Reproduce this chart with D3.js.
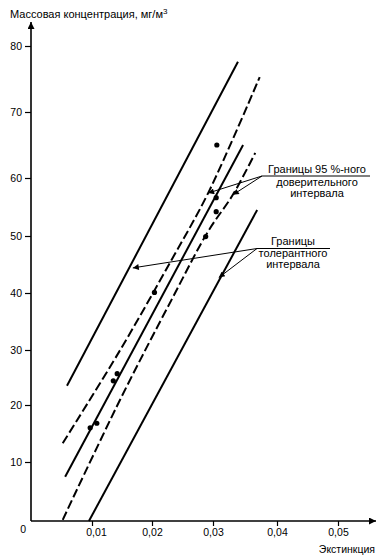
<!DOCTYPE html>
<html><head><meta charset="utf-8">
<script src="https://cdn.jsdelivr.net/npm/d3@7"></script>
<style>
html,body{margin:0;padding:0;background:#fff;}
svg{display:block;font-family:"Liberation Sans",Arial,sans-serif;}
</style></head>
<body>
<svg id="c" width="390" height="559"></svg>
<script>
// ---- data ----
const xTickValues = [0.01, 0.02, 0.03, 0.04, 0.05];
const yTickValues = [0, 10, 20, 30, 40, 50, 60, 70, 80];
const yTitle = "Массовая концентрация, мг/м";
const yTitleSup = "3";
const xTitle = "Экстинкция";

// measured points
const pointsX = [0.0097, 0.0108, 0.01355, 0.0142, 0.0204, 0.0288, 0.0305, 0.0305, 0.0306];
const pointsY = [16.0, 16.8, 24.4, 25.7, 40.1, 49.9, 56.6, 54.2, 65.0];

// regression line
const regX = [0.0056, 0.0347];
const regY = [7.5, 65.0];
// 95 % confidence bounds
const confUpX = [0.0052, 0.0147, 0.0232, 0.0292, 0.0373];
const confUpY = [13.3, 30.0, 45.8, 57.4, 75.3];
const confLoX = [0.0052, 0.0147, 0.0232, 0.0292, 0.0331, 0.0366];
const confLoY = [0.2, 21.0, 38.8, 50.8, 57.1, 63.8];
// tolerance bounds
const tolUpX = [0.0059, 0.0339];
const tolUpY = [23.5, 77.6];
const tolLoX = [0.0095, 0.0369];
const tolLoY = [0.0, 54.5];

const confLabel = ["Границы 95 %-ного", "доверительного", "интервала"];
const tolLabel = ["Границы", "толерантного", "интервала"];
// arrow targets (data units)
const confArrowX = [0.0292, 0.0331];
const confArrowY = [57.4, 57.1];
const tolArrowX = [0.0168, 0.0309];
const tolArrowY = [44.4, 42.7];

// ---- drawing ----
const svg = d3.select("#c");
const x = d3.scaleLinear().domain([0, 0.01, 0.02, 0.03, 0.04, 0.05]).range([31, 92, 152, 213, 277, 338]);
const y = d3.scaleLinear().domain(yTickValues).range([521, 462, 405, 350, 293, 236, 178, 112, 46]);

const defs = svg.append("defs");
defs.append("marker").attr("id","ah").attr("markerUnits","userSpaceOnUse")
  .attr("viewBox","0 0 10 10").attr("refX",10).attr("refY",5)
  .attr("markerWidth",9).attr("markerHeight",6).attr("orient","auto")
  .append("path").attr("d","M0,0L10,5L0,10Z").attr("fill","#000");
defs.append("marker").attr("id","axh").attr("markerUnits","userSpaceOnUse")
  .attr("viewBox","0 0 10 10").attr("refX",10).attr("refY",5)
  .attr("markerWidth",12).attr("markerHeight",7).attr("orient","auto")
  .append("path").attr("d","M0,0L10,5L0,10Z").attr("fill","#000");

const fmt = d3.formatLocale({decimal:",", thousands:" ", grouping:[3], currency:["",""]}).format(".2f");

// x axis
const gx = svg.append("g").attr("transform", `translate(0,${y(0)})`)
  .call(d3.axisBottom(x).tickValues(xTickValues).tickFormat(fmt).tickSize(5).tickSizeOuter(0));
gx.select(".domain").remove();
gx.selectAll("line").attr("stroke","#000").attr("stroke-width",1.2);
gx.selectAll("text").attr("font-size","10.5px").attr("fill","#000").attr("dy","0.95em").attr("y",5);
gx.selectAll("text").filter(d => d === 0.01).attr("dx", 4);
svg.append("line").attr("x1", x(0)).attr("x2", 376).attr("y1", y(0)).attr("y2", y(0))
  .attr("stroke","#000").attr("stroke-width",1.6).attr("marker-end","url(#axh)");
svg.append("text").attr("x", 375).attr("y", 553).attr("text-anchor","end")
  .attr("font-size","10.5px").text(xTitle);

// y axis
const gy = svg.append("g").attr("transform", `translate(${x(0)},0)`)
  .call(d3.axisLeft(y).tickValues(yTickValues).tickSize(6).tickSizeOuter(0).tickPadding(3));
gy.select(".domain").remove();
gy.selectAll("line").attr("stroke","#000").attr("stroke-width",1.2);
gy.selectAll("text").attr("font-size","10.5px").attr("fill","#000");
gy.selectAll(".tick").filter(d => d === 0).select("line").remove();
gy.selectAll(".tick").filter(d => d === 0).select("text").attr("dy","1.05em").attr("x",-5);
svg.append("line").attr("x1", x(0)).attr("x2", x(0)).attr("y1", y(0)).attr("y2", 22)
  .attr("stroke","#000").attr("stroke-width",1.6).attr("marker-end","url(#axh)");
const tt = svg.append("text").attr("x", 10).attr("y", 18).attr("font-size","11px").text(yTitle);
tt.append("tspan").attr("dy", -4).attr("font-size","8px").text(yTitleSup);

// lines
const zip = (xs, ys) => xs.map((v, i) => [v, ys[i]]);
const line = d3.line().x(d => x(d[0])).y(d => y(d[1]));
const curve = d3.line().x(d => x(d[0])).y(d => y(d[1])).curve(d3.curveCatmullRom);

function draw(path, dashed) {
  svg.append("path").attr("d", path).attr("fill","none").attr("stroke","#000")
    .attr("stroke-width", 2).attr("stroke-dasharray", dashed ? "9,3.5" : null);
}
draw(line(zip(tolUpX, tolUpY)), false);
draw(line(zip(tolLoX, tolLoY)), false);
draw(line(zip(regX, regY)), false);
draw(curve(zip(confUpX, confUpY)), true);
draw(curve(zip(confLoX, confLoY)), true);

// points
svg.selectAll("circle.pt").data(zip(pointsX, pointsY)).enter().append("circle")
  .attr("class","pt").attr("cx", d => x(d[0])).attr("cy", d => y(d[1])).attr("r", 2.6).attr("fill","#000");

// annotations
function annotate(lines, cx, baselines, ulX1, ulX2, ulY, ox, oy, ax, ay) {
  lines.forEach((t, i) => svg.append("text").attr("x", cx).attr("y", baselines[i])
    .attr("text-anchor","middle").attr("font-size","11px").text(t));
  svg.append("line").attr("x1", ulX1).attr("x2", ulX2).attr("y1", ulY).attr("y2", ulY)
    .attr("stroke","#000").attr("stroke-width",1);
  ax.forEach((v, i) => svg.append("line").attr("x1", ox).attr("y1", oy)
    .attr("x2", x(v)).attr("y2", y(ay[i])).attr("stroke","#000").attr("stroke-width",1)
    .attr("marker-end","url(#ah)"));
}
annotate(confLabel, 317, [172.5, 185.5, 196.5], 262, 370, 176, 262, 176, confArrowX, confArrowY);
annotate(tolLabel, 293, [245, 257, 268], 257, 330, 248.5, 257, 248.5, tolArrowX, tolArrowY);
</script>
</body></html>
